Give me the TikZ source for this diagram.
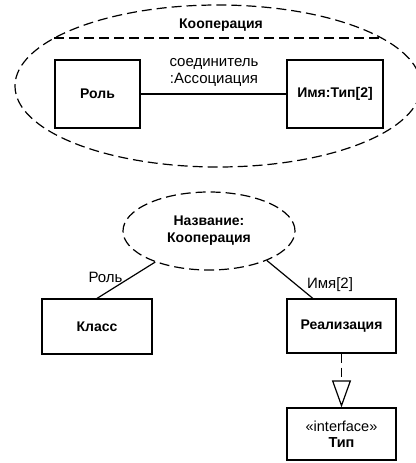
\documentclass[tikz,border=0pt]{standalone}
\usepackage{fontspec}
\setmainfont{Liberation Sans}
\usetikzlibrary{shapes.geometric,arrows.meta,calc}
\begin{document}
\begin{tikzpicture}[x=1pt,y=-1pt,
  txt/.style={font=\fontsize{15}{17}\selectfont, inner sep=0pt},
  boldtxt/.style={font=\fontsize{14}{16}\selectfont\bfseries, inner sep=0pt},
  box/.style={draw, line width=1.2pt, inner sep=0pt, align=center,
    font=\fontsize{14}{16}\selectfont\bfseries},
  usecase/.style={draw, ellipse, inner sep=0pt, line width=1.2pt,
    dash pattern=on 10pt off 5pt},
  link/.style={line width=1.2pt},
  realize/.style={line width=1.2pt, dash pattern=on 9pt off 5pt,
    -{Triangle[open, length=27pt, width=19pt, line width=1.2pt]}}]
\useasboundingbox (0,0) rectangle (415,463);

% collaboration with its internal structure
\node[usecase, minimum width=406pt, minimum height=162pt] (coop) at (218,86) {};
\node[boldtxt] (cooptitle) at (221,25) {Кооперация};
\coordinate (sepL) at (54,38);
\coordinate (sepR) at (382,38);
\draw[line width=1.2pt, dash pattern=on 10pt off 5pt] (sepL) -- (sepR);

\node[box, minimum width=85pt, minimum height=68pt] (role) at (97.5,94) {Роль};
\node[box, minimum width=96pt, minimum height=68pt] (part) at (335,94) {Имя:Тип[2]};
\draw[link] (role) -- (part);
\node[txt, align=center] (conn) at (214,72) {соединитель\\:Ассоциация};

% collaboration use and its role bindings
\node[usecase, minimum width=172pt, minimum height=78pt, align=center,
  font=\fontsize{14}{17}\selectfont\bfseries] (use) at (209,231)
  {Название:\\Кооперация};

\node[box, minimum width=110pt, minimum height=55pt] (klass) at (97,326.5) {Класс};
\node[box, minimum width=109pt, minimum height=54pt] (impl) at (341.5,326) {Реализация};
\node[box, minimum width=109pt, minimum height=52pt,
  font=\fontsize{14.5}{16}\selectfont] (iface) at (341.5,434)
  {«interface»\\\textbf{Тип}};

\draw[link] (klass.north) -- (use.210);
\draw[link] ($(impl.north west)!0.24!(impl.north east)$) -- (use.333);
\node[txt] (lrole) at (105.5,277) {Роль};
\node[txt] (lname) at (330,285) {Имя[2]};

\draw[realize] (impl.south) -- (iface.north);
\end{tikzpicture}
\end{document}
